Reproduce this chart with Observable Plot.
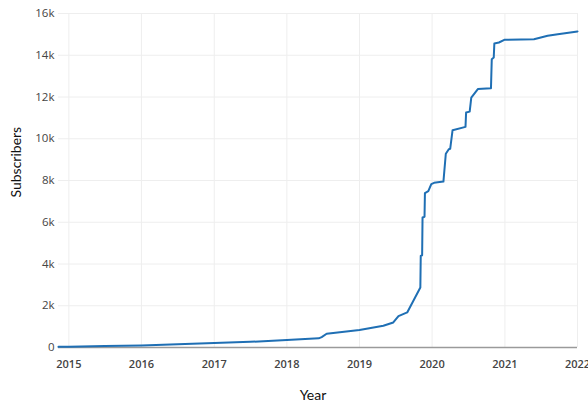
<!DOCTYPE html>
<html>
<head>
<meta charset="utf-8">
<script src="https://cdn.jsdelivr.net/npm/d3@7"></script>
<script src="https://cdn.jsdelivr.net/npm/@observablehq/plot@0.6"></script>
<style>
  html, body { margin: 0; padding: 0; background: #fff; }
  #chart svg { display: block; }
</style>
</head>
<body>
<div id="chart"></div>
<script>
const dates = [
  "2014-11-10","2015-01-01","2015-07-01","2016-01-01","2016-07-01","2017-01-01",
  "2017-07-01","2018-01-01","2018-06-10","2018-06-25","2018-07-20","2019-01-01",
  "2019-05-01","2019-06-20","2019-07-16","2019-08-29","2019-11-03","2019-11-05",
  "2019-11-12","2019-11-14","2019-11-24","2019-11-26","2019-12-13","2019-12-28",
  "2020-01-11","2020-02-27","2020-03-10","2020-03-25","2020-04-01","2020-04-13",
  "2020-06-17","2020-06-20","2020-07-08","2020-07-16","2020-08-18","2020-10-23",
  "2020-10-27","2020-11-06","2020-11-09","2020-12-02","2020-12-29","2021-05-27",
  "2021-08-04","2021-09-24","2022-01-01"
];
const subscribers = [
  30, 40, 70, 100, 150, 210,
  270, 360, 440, 500, 660, 840,
  1040, 1200, 1500, 1680, 2870, 4390,
  4420, 6230, 6260, 7400, 7490, 7830,
  7890, 7950, 9280, 9500, 9520, 10410,
  10570, 11260, 11300, 11975, 12380, 12425,
  13810, 13890, 14560, 14610, 14740, 14770,
  14930, 15010, 15140
];
const yTicks = [0, 2000, 4000, 6000, 8000, 10000, 12000, 14000, 16000];
const xTickYears = [2015, 2016, 2017, 2018, 2019, 2020, 2021, 2022];

const data = dates.map((d, i) => ({date: new Date(d + "T00:00:00"), value: subscribers[i]}));
const xTicks = xTickYears.map(y => new Date(y + "-01-01T00:00:00"));

const chart = Plot.plot({
  width: 588,
  height: 407,
  marginTop: 13,
  marginBottom: 60,
  marginLeft: 58,
  marginRight: 11,
  style: {fontFamily: "'Open Sans', sans-serif", background: "#fff"},
  x: {type: "time", domain: [new Date("2014-11-10T00:00:00"), new Date("2022-01-01T00:00:00")]},
  y: {domain: [0, 16000]},
  marks: [
    Plot.gridX(xTicks, {stroke: "#eeeeee", strokeOpacity: 1, strokeWidth: 1}),
    Plot.gridY(yTicks.filter(d => d > 0), {stroke: "#eeeeee", strokeOpacity: 1, strokeWidth: 1}),
    Plot.ruleY([0], {stroke: "#9a9a9a", strokeWidth: 1.5}),
    Plot.axisX(xTicks, {tickSize: 0, tickPadding: 13, tickFormat: d => String(d.getFullYear()), fontSize: 11, fontWeight: 600, fill: "#444", label: null}),
    Plot.axisY(yTicks, {tickSize: 0, tickPadding: 4, tickFormat: d => d === 0 ? "0" : (d / 1000) + "k", fontSize: 11.5, fill: "#444", label: null}),
    Plot.line(data, {x: "date", y: "value", stroke: "#1f6fb4", strokeWidth: 2}),
    Plot.text(["Year"], {frameAnchor: "bottom", dy: 52, dx: -5, fontSize: 14, fill: "#111", fontFamily: "Lato, sans-serif"}),
    Plot.text(["Subscribers"], {frameAnchor: "left", dx: -42, dy: 17, rotate: -90, fontSize: 14, fill: "#111", fontFamily: "Lato, sans-serif"})
  ]
});
document.getElementById("chart").appendChild(chart);
</script>
</body>
</html>
